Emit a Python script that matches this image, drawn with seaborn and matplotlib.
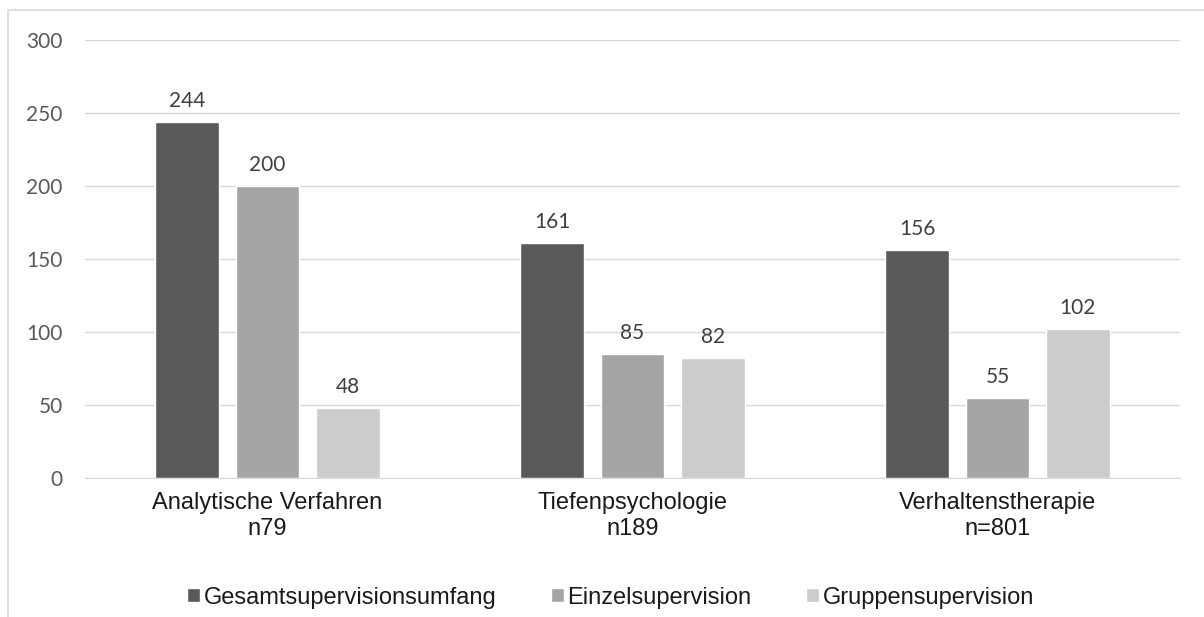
import pandas as pd
import matplotlib.pyplot as plt
import seaborn as sns
from matplotlib.patches import Rectangle

# ── Data ────────────────────────────────────────────────────
categories = ['Analytische Verfahren\nn79', 'Tiefenpsychologie\nn189', 'Verhaltenstherapie\nn=801']
series = ['Gesamtsupervisionsumfang', 'Einzelsupervision', 'Gruppensupervision']
gesamt = [244, 161, 156]
einzel = [200, 85, 55]
gruppe = [48, 82, 102]
colors = ['#595959', '#a5a5a5', '#cccccc']

df = pd.DataFrame({
    'cat': categories * 3,
    'series': [s for s in series for _ in categories],
    'value': gesamt + einzel + gruppe,
})

# ── Plot ────────────────────────────────────────────────────
sns.set_style('white')
plt.rcParams['font.family'] = ['Lato', 'DejaVu Sans']

fig = plt.figure(figsize=(12.04, 6.17), dpi=100)
ax = fig.add_axes([85 / 1204, 1 - 478 / 617, 1095 / 1204, 438 / 617])

sns.barplot(data=df, x='cat', y='value', hue='series', hue_order=series,
            palette=colors, width=0.66, gap=0.21, saturation=1,
            order=categories, ax=ax, legend=True)

for cont in ax.containers:
    ax.bar_label(cont, padding=8, fontsize=15, color='#404040')

ax.set_ylim(0, 300)
ax.set_yticks(range(0, 301, 50))
ax.grid(axis='y', color='#d9d9d9', linewidth=1.0)
ax.set_axisbelow(True)
for s in ax.spines.values():
    s.set_visible(False)
ax.spines['bottom'].set_visible(True)
ax.spines['bottom'].set_color('#d9d9d9')
ax.tick_params(axis='y', length=0, labelsize=15, labelcolor='#595959', pad=16)
ax.tick_params(axis='x', length=0, labelsize=17, pad=10)
for lbl in ax.get_xticklabels():
    lbl.set_family('Liberation Sans')
    lbl.set_color('#1a1a1a')
    lbl.set_linespacing(1.25)
ax.set_xlabel('')
ax.set_ylabel('')

ax.legend(loc='center', bbox_to_anchor=(0.48, -0.273), ncol=3, frameon=False,
          prop={'family': 'Liberation Sans', 'size': 17},
          handlelength=0.55, handleheight=0.55, handletextpad=0.15,
          columnspacing=2.3, labelcolor='#1a1a1a')

# chart area border (top/left visible)
fig.add_artist(Rectangle((8 / 1204, -0.1), 1.2, 1.1 - 10 / 617,
                         transform=fig.transFigure, fill=False,
                         edgecolor='#d9d9d9', linewidth=1.2))

plt.savefig('out.png', dpi=100)
